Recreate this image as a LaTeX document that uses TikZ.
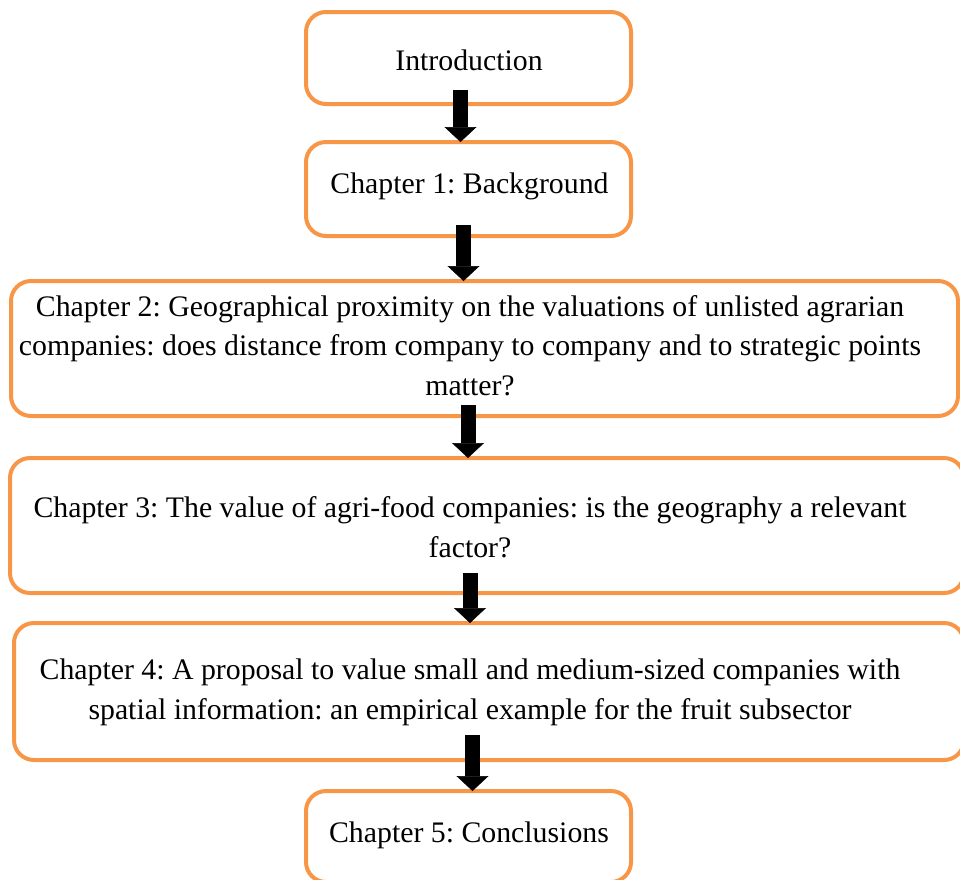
\documentclass[tikz,border=0pt]{standalone}
\usepackage{fontspec}
\setmainfont{Liberation Serif}
\usetikzlibrary{arrows.meta}
\definecolor{boxorange}{RGB}{247,150,70}
\frenchspacing
\tikzset{
  chapbox/.style={draw=boxorange, line width=4pt, rounded corners=20pt,
    rectangle, inner sep=0pt, outer sep=0pt, fill=none},
  chaptext/.style={align=center, inner sep=0pt, anchor=base,
    font=\fontsize{29.8}{39.5}\selectfont\frenchspacing},
  bigarrow/.style={line width=15pt,
    -{Triangle[width=32pt,length=15pt,line width=0.5pt]}}
}
\begin{document}
\begin{tikzpicture}[x=1pt,y=1pt]
\useasboundingbox (0,0) rectangle (960,-879);
% boxes
\node[chapbox, minimum width=325, minimum height=92] (intro) at (468.5,-58) {};
\node[chapbox, minimum width=325, minimum height=94] (ch1) at (468.5,-189) {};
\node[chapbox, minimum width=947, minimum height=135] (ch2) at (484.5,-348.5) {};
\node[chapbox, minimum width=954, minimum height=135] (ch3) at (487,-525.5) {};
\node[chapbox, minimum width=950, minimum height=137] (ch4) at (489,-691.5) {};
\node[chapbox, minimum width=325, minimum height=91] (ch5) at (468.5,-836.5) {};
% texts (anchor = baseline of last line)
\node[chaptext] (introt) at (469,-70) {Introduction};
\node[chaptext] (ch1t) at (469.5,-193) {Chapter 1: Background};
\node[chaptext] (ch2t) at (470,-395) {Chapter 2: Geographical proximity on the valuations of unlisted agrarian\\companies: does distance from company to company and to strategic points\\matter?};
\node[chaptext] (ch3t) at (470,-557) {Chapter 3: The value of agri-food companies: is the geography a relevant\\factor?};
\node[chaptext] (ch4t) at (470,-719) {Chapter 4: A proposal to value small and medium-sized companies with\\spatial information: an empirical example for the fruit subsector};
\node[chaptext] (ch5t) at (469,-842) {Chapter 5: Conclusions};
% arrows
\coordinate (a1) at (460.5,-90);
\coordinate (a2) at (463.5,-225);
\coordinate (a3) at (468,-405);
\coordinate (a4) at (470,-573);
\coordinate (a5) at (472.5,-735);
\draw[bigarrow] (a1) -- (a1 |- ch1.north);
\draw[bigarrow] (a2) -- (a2 |- ch2.north);
\draw[bigarrow] (a3) -- (a3 |- ch3.north);
\draw[bigarrow] (a4) -- (a4 |- ch4.north);
\draw[bigarrow] (a5) -- (a5 |- ch5.north);
\end{tikzpicture}
\end{document}
